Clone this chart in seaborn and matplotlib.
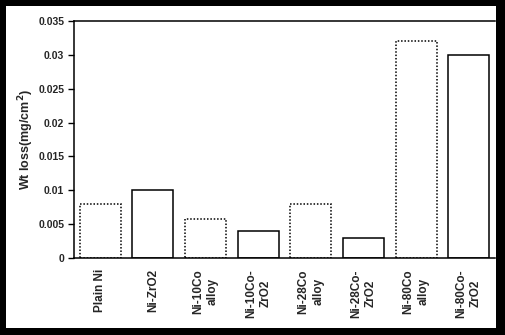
import matplotlib
matplotlib.use("Agg")
import matplotlib.pyplot as plt
from matplotlib.patches import Rectangle
import seaborn as sns

categories = ["Plain Ni", "Ni-ZrO2", "Ni-10Co\nalloy", "Ni-10Co-\nZrO2",
              "Ni-28Co\nalloy", "Ni-28Co-\nZrO2", "Ni-80Co\nalloy", "Ni-80Co-\nZrO2"]
wt_loss = [0.008, 0.010, 0.0058, 0.004, 0.008, 0.003, 0.032, 0.030]
dotted = [True, False, True, False, True, False, True, False]
y_ticks = [0, 0.005, 0.01, 0.015, 0.02, 0.025, 0.03, 0.035]
y_tick_labels = ["0", "0.005", "0.01", "0.015", "0.02", "0.025", "0.03", "0.035"]

sns.set_style("white")
plt.rcParams["font.family"] = ["Liberation Sans", "DejaVu Sans"]
plt.rcParams["font.weight"] = "bold"

fig = plt.figure(figsize=(5.05, 3.35), dpi=100, facecolor="black")
fig.patches.append(Rectangle((6 / 505, 7 / 335), 490 / 505, 322 / 335,
                             transform=fig.transFigure, facecolor="white",
                             edgecolor="none", zorder=-1))

ax = fig.add_axes([74 / 505, 1 - 258 / 335, 421 / 505, 237 / 335])
ax.set_zorder(1)
ax.set_facecolor("white")

sns.barplot(x=categories, y=wt_loss, color="white", edgecolor="black",
            linewidth=1.1, width=0.78, saturation=1, ax=ax)

for patch, dot in zip(ax.patches, dotted):
    patch.set_facecolor("white")
    if dot:
        patch.set_linestyle((0, (1, 1.2)))

ax.set_xlim(-0.5, 7.5)
ax.set_ylim(0, 0.035)
ax.set_yticks(y_ticks)
ax.set_yticklabels(y_tick_labels, fontsize=7.5, fontweight="bold")
ax.set_xticks(range(len(categories)))
ax.set_xticklabels(categories, rotation=90, fontsize=8.5, fontweight="bold",
                   va="top", ha="center", multialignment="center",
                   linespacing=1.3)

ax.tick_params(axis="y", left=True, direction="out", length=4, width=1,
               color="black", pad=3)
ax.tick_params(axis="x", bottom=False, length=0, pad=8)

for side in ["left", "top", "bottom"]:
    ax.spines[side].set_visible(True)
    ax.spines[side].set_color("black")
    ax.spines[side].set_linewidth(1.1)
ax.spines["right"].set_visible(False)

ax.set_ylabel("Wt loss(mg/cm$^2$)", fontsize=9, fontweight="bold")
ax.yaxis.set_label_coords(-38 / 421, 0.5)

fig.savefig("out.png", dpi=100, facecolor="black")
